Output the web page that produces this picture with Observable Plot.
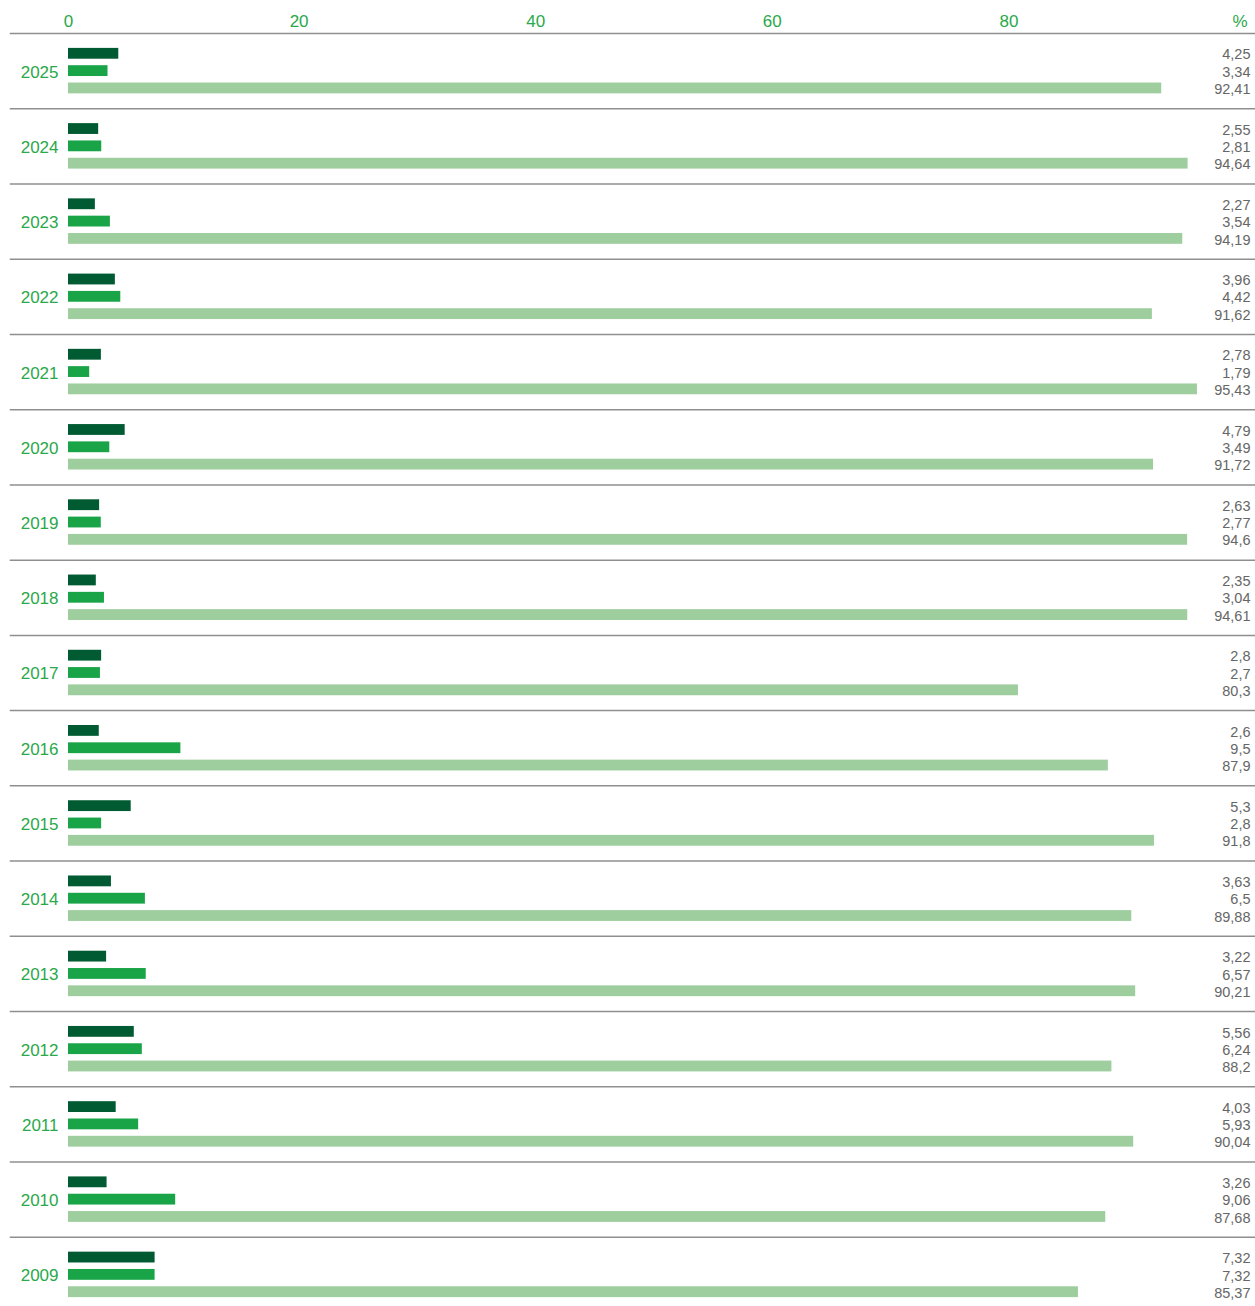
<!DOCTYPE html>
<html>
<head>
<meta charset="utf-8">
<script src="https://cdn.jsdelivr.net/npm/d3@7"></script>
<script src="https://cdn.jsdelivr.net/npm/@observablehq/plot@0.6"></script>
<style>
  html, body { margin: 0; padding: 0; background: #fff; overflow: hidden; }
  #chart svg { display: block; font-family: "Liberation Sans", Arial, sans-serif; }
</style>
</head>
<body>
<div id="chart"></div>
<script>
const years = [2025, 2024, 2023, 2022, 2021, 2020, 2019, 2018, 2017, 2016, 2015, 2014, 2013, 2012, 2011, 2010, 2009];
const seriesDark  = [4.25, 2.55, 2.27, 3.96, 2.78, 4.79, 2.63, 2.35, 2.8, 2.6, 5.3, 3.63, 3.22, 5.56, 4.03, 3.26, 7.32];
const seriesMid   = [3.34, 2.81, 3.54, 4.42, 1.79, 3.49, 2.77, 3.04, 2.7, 9.5, 2.8, 6.5, 6.57, 6.24, 5.93, 9.06, 7.32];
const seriesLight = [92.41, 94.64, 94.19, 91.62, 95.43, 91.72, 94.6, 94.61, 80.3, 87.9, 91.8, 89.88, 90.21, 88.2, 90.04, 87.68, 85.37];
const seriesKeys = ["dark", "mid", "light"];
const seriesColors = ["#005a32", "#19a448", "#9ecd9e"];
const xTicks = [0, 20, 40, 60, 80];

const rows = [];
years.forEach((year, i) => {
  rows.push({year, series: "dark", value: seriesDark[i]});
  rows.push({year, series: "mid", value: seriesMid[i]});
  rows.push({year, series: "light", value: seriesLight[i]});
});
const fmt = v => String(v).replace(".", ",");

const chart = Plot.plot({
  width: 1255,
  height: 1312,
  marginTop: 33,
  marginBottom: 0,
  marginLeft: 68,
  marginRight: 4,
  style: {fontFamily: "Liberation Sans, Arial, sans-serif", overflow: "visible"},
  x: {domain: [0, 100], axis: null},
  y: {domain: seriesKeys, axis: null, paddingInner: 0.375, paddingOuter: 0.86, round: false},
  fy: {domain: years, padding: 0, axis: null, round: false},
  color: {domain: seriesKeys, range: seriesColors},
  marks: [
    Plot.frame({anchor: "top", stroke: "#8f8f8f", strokeWidth: 1.5, insetLeft: -58, insetRight: -4}),
    Plot.barX(rows, {fy: "year", y: "series", x: "value", fill: "series"}),
    Plot.text(years, {fy: d => d, text: d => String(d), frameAnchor: "left", textAnchor: "end", dx: -10, dy: 1, fill: "#2aa84a", fontSize: 17}),
    Plot.text(rows, {fy: "year", y: "series", text: d => fmt(d.value), frameAnchor: "right", textAnchor: "end", dx: -1, dy: 1, fill: "#666666", fontSize: 14.5}),
    Plot.axisX([0], {anchor: "top", tickSize: 0, tickPadding: 7, fontSize: 17, fill: "#2aa84a", label: null}),
    Plot.axisX(xTicks.slice(1), {anchor: "top", tickSize: 0, tickPadding: 7, dx: -6, fontSize: 17, fill: "#2aa84a", label: null}),
    Plot.text(["%"], {fy: () => years[0], frameAnchor: "top-right", textAnchor: "end", lineAnchor: "bottom", dy: -7, dx: -4, fill: "#2aa84a", fontSize: 17})
  ]
});
document.getElementById("chart").append(chart);
</script>
</body>
</html>
